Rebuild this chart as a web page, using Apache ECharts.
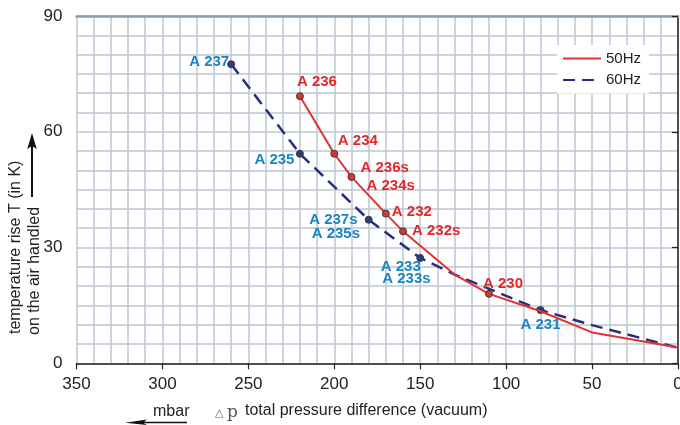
<!DOCTYPE html>
<html>
<head>
<meta charset="utf-8">
<script src="https://cdn.jsdelivr.net/npm/echarts@6/dist/echarts.min.js"></script>
<style>html,body{margin:0;padding:0;background:#fff;overflow:hidden}#c{width:680px;height:425px}</style>
</head>
<body>
<div id="c"></div>
<script>
// ---- data ----
var seriesNames = ['50Hz', '60Hz'];
var pressure50 = [220, 200, 190, 170, 160, 130, 110, 80, 50, 0];
var temp50     = [69.2, 54.3, 48.3, 38.8, 34.2, 23.0, 18.0, 13.5, 8.0, 4.1];
var labels50   = ['A 236', 'A 234', 'A 236s\nA 234s', 'A 232', 'A 232s', '', 'A 230', '', '', ''];
var pressure60 = [260, 220, 180, 150, 130, 80, 50, 0];
var temp60     = [77.5, 54.3, 37.2, 27.3, 23.0, 13.8, 9.9, 4.0];
var labels60   = ['A 237', 'A 235', 'A 237s\nA 235s', 'A 233\nA 233s', '', 'A 231', '', ''];
var xTicks = [350, 300, 250, 200, 150, 100, 50, 0];
var yTicks = [0, 30, 60, 90];

// label placement (offset of label's left edge / vertical middle from the point)
var labelPlace = {
  'A 236': [-3, -14.5], 'A 234': [3.5, -12.5], 'A 236s\nA 234s': [9, 0],
  'A 232': [6, -1.5], 'A 232s': [9, -0.5], 'A 230': [-6, -9.5],
  'A 237': [-42, -2.5], 'A 235': [-45.5, 6], 'A 237s\nA 235s': [-59.5, 7.5],
  'A 233\nA 233s': [-39.5, 15], 'A 231': [-20, 14.5]
};
var twoLineStyle = {
  'A 236s\nA 234s': {lh: 18, pad2: 6},
  'A 237s\nA 235s': {lh: 14, pad2: 2.5},
  'A 233\nA 233s': {lh: 12.5, pad2: 1.5}
};

var RED = '#e1292b', RED_LINE = '#e03232', BLUE_TXT = '#1a84c4', NAVY = '#2b2c7c';

function build(xs, ys, lbs, fill, txtColor) {
  return xs.map(function (x, i) {
    var lb = lbs[i];
    if (!lb) return {value: [x, ys[i]], symbol: 'none'};
    var pl = labelPlace[lb];
    var lab = {
      show: true, position: 'inside', align: 'left', verticalAlign: 'middle',
      offset: pl, color: txtColor, fontSize: 15, fontWeight: 'bold',
      fontFamily: 'Liberation Sans, Arial, sans-serif'
    };
    if (twoLineStyle[lb]) {
      var t = twoLineStyle[lb];
      var parts = lb.split('\n');
      lab.formatter = '{a|' + parts[0] + '}\n{b|' + parts[1] + '}';
      var base = {color: txtColor, fontSize: 15, fontWeight: 'bold', lineHeight: t.lh,
                  fontFamily: 'Liberation Sans, Arial, sans-serif'};
      lab.rich = {a: Object.assign({}, base), b: Object.assign({padding: [0, 0, 0, t.pad2]}, base)};
    } else {
      lab.formatter = lb;
    }
    return {
      value: [x, ys[i]], symbol: 'circle', symbolSize: 7,
      itemStyle: {color: fill, borderColor: '#3a3a3a', borderWidth: 1},
      label: lab
    };
  });
}

var gridColor = '#bcc8d4';
var chart = echarts.init(document.getElementById('c'), null, {renderer: 'canvas'});
var axisFont = {fontSize: 17, color: '#222', fontFamily: 'Liberation Sans, Arial, sans-serif'};

chart.setOption({
  animation: false,
  backgroundColor: '#fff',
  grid: {left: 76.5, right: 2, top: 16, bottom: 61.7, containLabel: false, outerBoundsMode: 'none'},
  legend: {
    orient: 'vertical', left: 557, top: 45,
    backgroundColor: '#fff', padding: [6, 8, 6, 5],
    itemWidth: 38, itemHeight: 12, itemGap: 6.5,
    itemStyle: {opacity: 0},
    textStyle: {fontSize: 15, color: '#222', fontFamily: 'Liberation Sans, Arial, sans-serif'},
    data: seriesNames
  },
  xAxis: [{
    type: 'value', min: xTicks[xTicks.length - 1], max: xTicks[0], interval: 50, inverse: true,
    axisLine: {show: true, lineStyle: {color: '#222', width: 1.5}},
    axisTick: {show: true, inside: false, length: 6, lineStyle: {color: '#222', width: 1.2}},
    axisLabel: Object.assign({margin: 13}, axisFont),
    splitLine: {show: true, lineStyle: {color: gridColor, width: 1.5}},
    minorTick: {show: false, splitNumber: 5},
    minorSplitLine: {show: true, lineStyle: {color: gridColor, width: 1.5}}
  }, {
    type: 'value', min: 0, max: 350, inverse: true, position: 'top',
    axisLine: {show: true, lineStyle: {color: '#8e9dac', width: 2.5}},
    axisTick: {show: false}, axisLabel: {show: false}, splitLine: {show: false}
  }],
  yAxis: {
    type: 'value', min: yTicks[0], max: yTicks[yTicks.length - 1], interval: 30,
    axisLine: {show: true, lineStyle: {color: '#222', width: 1.5}},
    axisTick: {show: true, inside: false, length: 6, lineStyle: {color: '#222', width: 1.2}},
    axisLabel: Object.assign({margin: 14}, axisFont),
    splitLine: {show: true, lineStyle: {color: gridColor, width: 1.5}},
    minorTick: {show: false, splitNumber: 6},
    minorSplitLine: {show: true, lineStyle: {color: gridColor, width: 1.5}}
  },
  series: [{
    name: seriesNames[0], type: 'line', symbol: 'none', z: 4,
    lineStyle: {color: RED_LINE, width: 2},
    itemStyle: {color: RED_LINE},
    data: build(pressure50, temp50, labels50, '#d9352c', RED)
  }, {
    name: seriesNames[1], type: 'line', symbol: 'none', z: 3,
    lineStyle: {color: NAVY, width: 2.5, type: [12, 7]},
    itemStyle: {color: NAVY},
    data: build(pressure60, temp60, labels60, '#2c3d82', BLUE_TXT)
  }],
  graphic: [
    {type: 'text', x: 16, y: 334, rotation: Math.PI / 2,
     style: {text: 'temperature rise T (in K)', fill: '#222', fontSize: 16,
             fontFamily: 'Liberation Sans, Arial, sans-serif', align: 'left', verticalAlign: 'middle'}},
    {type: 'text', x: 34.5, y: 335, rotation: Math.PI / 2,
     style: {text: 'on the air handled', fill: '#222', fontSize: 16,
             fontFamily: 'Liberation Sans, Arial, sans-serif', align: 'left', verticalAlign: 'middle'}},
    {type: 'line', shape: {x1: 32, y1: 197, x2: 32, y2: 146}, style: {stroke: '#111', lineWidth: 2}},
    {type: 'polygon', shape: {points: [[32, 133], [27.3, 149], [32, 146], [36.7, 149]]}, style: {fill: '#111'}},
    {type: 'text', x: 153, y: 412,
     style: {text: 'mbar', fill: '#222', fontSize: 16, fontFamily: 'Liberation Sans, Arial, sans-serif',
             align: 'left', verticalAlign: 'middle'}},
    {type: 'line', shape: {x1: 140, y1: 422.5, x2: 187, y2: 422.5}, style: {stroke: '#111', lineWidth: 1.5}},
    {type: 'polygon', shape: {points: [[125, 422.8], [147, 419.5], [143, 422.8], [147, 425]]}, style: {fill: '#111'}},
    {type: 'text', x: 215, y: 413,
     style: {text: '△', fill: '#666', fontSize: 11, fontFamily: 'DejaVu Sans, sans-serif',
             align: 'left', verticalAlign: 'middle'}},
    {type: 'text', x: 227, y: 413,
     style: {text: 'p', fill: '#555', fontSize: 17, fontFamily: 'DejaVu Serif, Liberation Serif, serif',
             align: 'left', verticalAlign: 'middle'}},
    {type: 'text', x: 245, y: 411,
     style: {text: 'total pressure difference (vacuum)', fill: '#222', fontSize: 16,
             fontFamily: 'Liberation Sans, Arial, sans-serif', align: 'left', verticalAlign: 'middle'}}
  ]
});
</script>
</body>
</html>
